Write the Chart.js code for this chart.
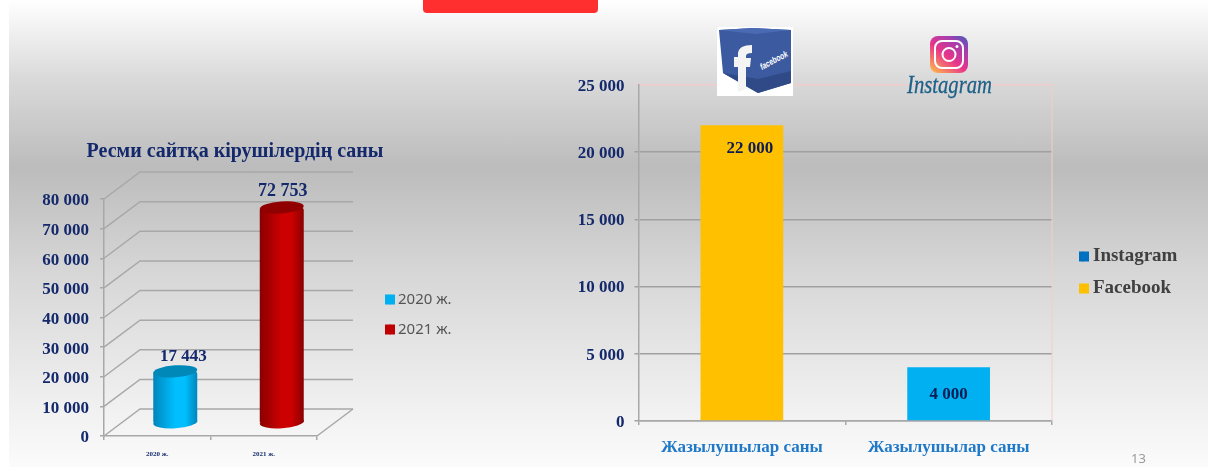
<!DOCTYPE html>
<html>
<head>
<meta charset="utf-8">
<script src="https://cdn.jsdelivr.net/npm/chart.js@4"></script>
<style>
html,body{margin:0;padding:0;background:#fff;}
#page{position:relative;width:1208px;height:470px;overflow:hidden;background:#fff;}
#slide{position:absolute;left:9px;top:0;width:1199px;height:467px;background:linear-gradient(180deg,#ffffff 0,#d9d9d9 80px,#bcbcbc 167px,#d6d6d6 270px,#efefef 400px,#fbfbfb 467px);}
#tab{position:absolute;left:423px;top:0;width:175px;height:13px;background:#ff2f2f;border-radius:0 0 4px 4px;}
canvas{position:absolute;top:0;}
#c1{left:0;}
#c2{left:480px;}
#pageNo{position:absolute;left:1131px;top:449px;font:13px "Noto Sans",sans-serif;color:#9a9a9a;}
svg{position:absolute;}
</style>
</head>
<body>
<div id="page">
  <div id="slide"></div>
  <div id="tab"></div>
  <canvas id="c1" width="480" height="470"></canvas>
  <canvas id="c2" width="728" height="470"></canvas>
  <svg style="left:717px;top:27px" width="76" height="69" viewBox="0 0 76 69">
    <rect width="76" height="69" fill="#fff"/>
    <path d="M2 3 L36 1 L74 3 L74 56 L41 66 L6 46 Z" fill="#3b5a9f"/>
    <path d="M2 3 L36 1 L74 3 L38 7 Z" fill="#4a6bb3"/>
    <path d="M6 46 L41 52 L74 44 L74 56 L41 66 Z" fill="#2f4a86"/>
    <path d="M21 65 L21 40 L17 40 L17 30 L21 30 L21 26 Q22 18 35 18 L35 26 Q29 26 29 29 L29 31 L34 31 L33 40 L29 40 L29 62 Z" fill="#f4f4f4"/>
    <text x="0" y="0" transform="translate(45,43) rotate(-28)" font-family="Liberation Sans" font-style="italic" font-weight="bold" font-size="9" fill="#fff" textLength="30" lengthAdjust="spacingAndGlyphs">facebook</text>
  </svg>
  <svg style="left:905px;top:34px" width="90" height="68" viewBox="0 0 90 68">
    <defs><linearGradient id="ig" x1="0.1" y1="1" x2="0.9" y2="0">
      <stop offset="0" stop-color="#fdb44d"/><stop offset="0.45" stop-color="#e8348a"/><stop offset="0.8" stop-color="#a03fb0"/><stop offset="1" stop-color="#5058b8"/>
    </linearGradient></defs>
    <rect x="25" y="2" width="38" height="37" rx="8" fill="url(#ig)"/>
    <rect x="30" y="7" width="28" height="27" rx="7" fill="none" stroke="#fff" stroke-width="2"/>
    <circle cx="44" cy="20.5" r="6.5" fill="none" stroke="#fff" stroke-width="2"/>
    <circle cx="52" cy="12.5" r="1.5" fill="#fff"/>
    <text x="2" y="59" font-family="Liberation Serif" font-style="italic" font-size="25" fill="#1c6188" stroke="#1c6188" stroke-width="0.3" textLength="85" lengthAdjust="spacingAndGlyphs">Instagram</text>
  </svg>
  <div id="pageNo">13</div>
</div>
<script>
// ---------- data ----------
const siteTitle = "Ресми сайтқа кірушілердің саны";
const siteYears = ["2020 ж.", "2021 ж."];
const siteVisits = [17443, 72753];
const subscriberCategories = ["Жазылушылар саны", "Жазылушылар саны"];
const facebookValues = [22000, null];
const instagramValues = [null, 4000];
const subscriberLegend = ["Instagram", "Facebook"];

// ---------- styling ----------
const SERIF = "'Liberation Serif', serif";
const NAVY = "#14296b";
const GRID = "#a8a8a8";
const spaced = v => String(v).replace(/\B(?=(\d{3})+(?!\d))/g, " ");
const cylLight = ["#00bfff", "#cc0000"];
const cylDark = ["#0086bb", "#8a0000"];
const capColor = ["#0088b8", "#900000"];
const legendLeft = ["#00b0f0", "#c00000"];
const legendRight = ["#0070c0", "#ffc000"];

const DEPTH_X = 36, DEPTH_Y = 27;       // wall depth
const BAR_DX = 18, BAR_DY = -13;        // cylinder sits mid-depth
const RX = 22, RY = 6, TILT = -0.07;
const LABEL_SHIFT_X = [8, 1], LABEL_SHIFT_Y = [-15, -16];
const LABEL_SIZE = [17, 18];

function placeBoxes(titlePos, legendPos) {
  return {
    id: "placeBoxes",
    afterLayout(chart) {
      if (titlePos && chart.titleBlock) {
        Object.assign(chart.titleBlock, titlePos);
      }
      const l = chart.legend;
      l.left = legendPos.x; l.right = legendPos.x + l.width;
      l.top = legendPos.y; l.bottom = legendPos.y + l.height;
    }
  };
}

// square legend keys set close to the text (the library's own gap is half the font size)
function legendKeys(colors, gap) {
  return {
    id: "legendKeys",
    afterDraw(chart) {
      const l = chart.legend, o = l.options.labels, fs = o.font.size, { ctx } = chart;
      ctx.save();
      colors.forEach((c, i) => {
        const textX = l.left + o.padding + o.boxWidth + fs / 2;
        const cy = l.top + o.padding + i * (fs + o.padding) + fs / 2;
        ctx.fillStyle = c;
        ctx.fillRect(textX - gap - 10, cy - 5, 10, 10);
      });
      ctx.restore();
    }
  };
}

const wall3d = {
  id: "wall3d",
  beforeDatasetsDraw(chart) {
    const { ctx, scales: { y }, chartArea: a } = chart;
    ctx.save();
    ctx.strokeStyle = GRID;
    ctx.lineWidth = 1.5;
    y.ticks.forEach(t => {
      const py = y.getPixelForValue(t.value);
      ctx.beginPath();
      ctx.moveTo(a.left, py);
      ctx.lineTo(a.left + DEPTH_X, py - DEPTH_Y);
      ctx.lineTo(a.right + DEPTH_X, py - DEPTH_Y);
      ctx.stroke();
    });
    const by = y.getPixelForValue(0);
    ctx.beginPath();
    ctx.moveTo(a.right, by);
    ctx.lineTo(a.right + DEPTH_X, by - DEPTH_Y);
    ctx.stroke();
    ctx.restore();
  },
  beforeDatasetDraw(chart, args) {
    const { ctx } = chart;
    ctx.save();
    ctx.translate(BAR_DX, BAR_DY);
    args.meta.data.forEach((el, i) => {
      ctx.fillStyle = cylGradient(chart, i);
      ctx.beginPath();
      ctx.ellipse(el.x, el.base, RX, RY, TILT, 0, Math.PI * 2);
      ctx.fill();
    });
  },
  afterDatasetDraw(chart, args) {
    const { ctx } = chart;
    args.meta.data.forEach((el, i) => {
      ctx.fillStyle = capColor[i];
      ctx.beginPath();
      ctx.ellipse(el.x, el.y, RX, RY, TILT, 0, Math.PI * 2);
      ctx.fill();
    });
    ctx.restore();
  },
  afterDatasetsDraw(chart) {
    const { ctx } = chart;
    const meta = chart.getDatasetMeta(0);
    ctx.save();
    ctx.fillStyle = NAVY;
    ctx.textAlign = "center";
    ctx.textBaseline = "middle";
    meta.data.forEach((el, i) => {
      ctx.font = "bold " + LABEL_SIZE[i] + "px " + SERIF;
      ctx.fillText(spaced(siteVisits[i]), el.x + BAR_DX + LABEL_SHIFT_X[i], el.y + BAR_DY + LABEL_SHIFT_Y[i]);
    });
    ctx.restore();
  }
};

function cylGradient(chart, i) {
  const cx = chart.scales.x.getPixelForValue(i);
  const g = chart.ctx.createLinearGradient(cx - RX, 0, cx + RX, 0);
  g.addColorStop(0, cylDark[i]);
  g.addColorStop(0.5, cylLight[i]);
  g.addColorStop(0.72, cylLight[i]);
  g.addColorStop(1, cylDark[i]);
  return g;
}

new Chart(document.getElementById("c1"), {
  type: "bar",
  data: {
    labels: siteYears,
    datasets: [{
      data: siteVisits,
      clip: false,
      backgroundColor: c => c.dataIndex === undefined ? cylLight[0] : cylGradient(c.chart, c.dataIndex),
      barPercentage: 0.413,
      categoryPercentage: 1,
      borderRadius: { topLeft: 3, topRight: 3 },
      borderSkipped: "bottom"
    }]
  },
  options: {
    responsive: false,
    animation: false,
    layout: { padding: { left: 4, right: 163, top: 179, bottom: 4 } },
    plugins: {
      tooltip: { enabled: false },
      title: {
        display: true, text: siteTitle, color: NAVY, padding: 0,
        font: { family: SERIF, size: 20, weight: "bold", lineHeight: 1 }
      },
      legend: {
        position: "chartArea", align: "start",
        labels: {
          boxWidth: 1, boxHeight: 10, padding: 15, color: "#555555",
          font: { family: "'Noto Sans'", size: 15 },
          generateLabels: () => siteYears.map((t, i) => ({
            text: t, fillStyle: legendLeft[i], strokeStyle: legendLeft[i], lineWidth: 0, fontColor: "#555555", hidden: false, index: i
          }))
        }
      }
    },
    scales: {
      x: {
        afterFit: s => { s.height = 30; },
        grid: { drawOnChartArea: false, color: GRID, tickLength: 4, lineWidth: 1.5 },
        border: { color: GRID, width: 1.5 },
        ticks: { color: NAVY, padding: 10, font: { family: SERIF, size: 7, weight: "bold" } }
      },
      y: {
        min: 0, max: 80000,
        afterFit: s => { s.width = 100; },
        grid: { drawOnChartArea: false, color: GRID, tickLength: 4, lineWidth: 1.5 },
        border: { color: GRID, width: 1.5 },
        ticks: {
          stepSize: 10000, color: NAVY, padding: 11, labelOffset: 2,
          font: { family: SERIF, size: 17, weight: "bold" },
          callback: v => spaced(v)
        }
      }
    }
  },
  plugins: [wall3d, legendKeys(legendLeft, 3), placeBoxes({ left: 0, right: 470, top: 142, bottom: 162 }, { x: 374.5, y: 277 })]
});

const frame = {
  id: "frame",
  beforeDatasetsDraw(chart) {
    const { ctx, chartArea: a } = chart;
    ctx.save();
    ctx.strokeStyle = "#f2cccc";
    ctx.lineWidth = 1;
    ctx.beginPath();
    ctx.moveTo(a.right, a.top);
    ctx.lineTo(a.right, a.bottom);
    ctx.stroke();
    ctx.restore();
  },
  afterDatasetsDraw(chart) {
    const { ctx } = chart;
    ctx.save();
    ctx.fillStyle = "#0c1c56";
    ctx.textAlign = "center";
    ctx.textBaseline = "middle";
    ctx.font = "bold 17px " + SERIF;
    const fb = chart.getDatasetMeta(0).data[0];
    ctx.fillText(spaced(facebookValues[0]), fb.x + 8, fb.y + 23);
    const ig = chart.getDatasetMeta(1).data[1];
    ctx.fillText(spaced(instagramValues[1]), ig.x, (ig.y + ig.base) / 2 + 1);
    ctx.restore();
  }
};

new Chart(document.getElementById("c2"), {
  type: "bar",
  data: {
    labels: subscriberCategories,
    datasets: [
      { label: subscriberLegend[1], data: facebookValues, backgroundColor: "#ffc000", stack: "s", barPercentage: 0.4, categoryPercentage: 1 },
      { label: subscriberLegend[0], data: instagramValues, backgroundColor: "#00b0f0", stack: "s", barPercentage: 0.4, categoryPercentage: 1 }
    ]
  },
  options: {
    responsive: false,
    animation: false,
    layout: { padding: { left: 58.5, right: 156, top: 85, bottom: 9 } },
    plugins: {
      tooltip: { enabled: false },
      legend: {
        position: "chartArea", align: "start",
        labels: {
          boxWidth: 1, boxHeight: 10, padding: 13, color: "#404040",
          font: { family: SERIF, size: 19, weight: "bold" },
          generateLabels: () => subscriberLegend.map((t, i) => ({
            text: t, fillStyle: legendRight[i], strokeStyle: legendRight[i], lineWidth: 0, fontColor: "#404040", hidden: false, datasetIndex: i
          }))
        }
      }
    },
    scales: {
      x: {
        stacked: true,
        afterFit: s => { s.height = 40; },
        grid: { drawOnChartArea: false, color: GRID, tickLength: 4, lineWidth: 1.5 },
        border: { color: GRID, width: 1.5 },
        ticks: { color: "#1f78c8", padding: 12, font: { family: SERIF, size: 17, weight: "bold" } }
      },
      y: {
        stacked: true, min: 0, max: 25000,
        afterFit: s => { s.width = 100; },
        grid: {
          color: c => c.tick && c.tick.value === 25000 ? "#f2cccc" : "#a0a0a0",
          tickLength: 4, lineWidth: 1.5
        },
        border: { color: GRID, width: 1.5 },
        ticks: {
          stepSize: 5000, color: NAVY, padding: 10, labelOffset: 1.5,
          font: { family: SERIF, size: 17, weight: "bold" },
          callback: v => spaced(v)
        }
      }
    }
  },
  plugins: [frame, legendKeys(legendRight, 4), placeBoxes(null, { x: 589.5, y: 234 })]
});
</script>
</body>
</html>
